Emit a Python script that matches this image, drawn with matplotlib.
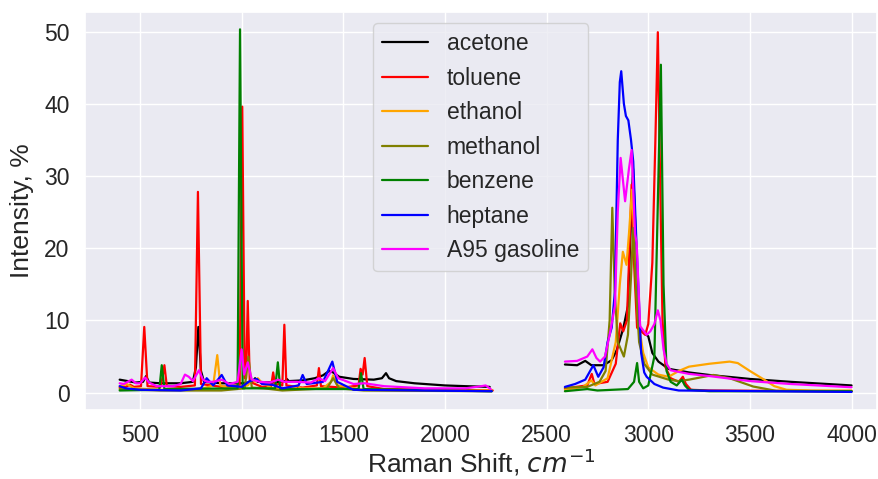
import numpy as np
import matplotlib
matplotlib.use("Agg")
import matplotlib.pyplot as plt
import seaborn as sns

nan = float("nan")

# ---------------- data ----------------
acetone_x = [400, 440, 480, 515, 530, 545, 600, 700, 760, 775, 787, 800, 815, 900, 1000, 1055, 1066, 1078,
             1150, 1215, 1222, 1232, 1300, 1360, 1400, 1430, 1450, 1480, 1550, 1650, 1690, 1710, 1725, 1760,
             1850, 2000, 2100, 2220,
             nan,
             2590, 2650, 2690, 2720, 2780, 2820, 2845, 2877, 2900, 2915, 2925, 2935, 2950, 2960, 3000, 3020,
             3050, 3100, 3200, 3300, 3500, 3700, 4000]
acetone_y = [1.8, 1.6, 1.4, 1.5, 2.3, 1.4, 1.3, 1.3, 1.5, 3.5, 9.1, 3.0, 1.5, 1.3, 1.3, 1.5, 2.0, 1.5,
             1.4, 1.6, 1.9, 1.6, 1.7, 2.0, 2.4, 3.0, 2.8, 2.2, 1.9, 1.8, 2.0, 2.7, 2.0, 1.6,
             1.3, 1.0, 0.9, 0.8,
             nan,
             3.9, 3.8, 4.4, 3.8, 3.8, 4.5, 5.9, 8.9, 12.0, 24.0, 31.0, 24.0, 12.0, 8.7, 7.8, 5.5,
             4.3, 3.3, 2.8, 2.45, 1.9, 1.5, 1.0]

toluene_x = [400, 430, 451, 470, 505, 521, 537, 600, 610, 620, 632, 700, 770, 785, 800, 900, 990, 1003, 1015,
             1022, 1030, 1040, 1100, 1145, 1155, 1165, 1180, 1200, 1210, 1220, 1300, 1370, 1380, 1390, 1500,
             1575, 1585, 1595, 1605, 1618, 1700, 2000, 2235,
             nan,
             2590, 2700, 2722, 2735, 2800, 2840, 2862, 2877, 2895, 2905, 2918, 2930, 2945, 2965, 2985, 3000,
             3020, 3035, 3047, 3058, 3070, 3085, 3110, 3150, 3170, 3185, 3210, 3300, 4000]
toluene_y = [0.7, 0.8, 1.1, 0.8, 0.9, 9.1, 0.9, 0.8, 2.0, 3.8, 0.9, 0.8, 1.0, 27.8, 1.2, 0.8, 1.0, 39.6, 2.0,
             2.0, 12.7, 1.5, 0.8, 0.9, 2.8, 1.0, 1.2, 1.0, 9.4, 1.0, 0.7, 1.0, 3.4, 0.9, 0.7,
             1.0, 3.3, 2.5, 4.8, 0.9, 0.5, 0.4, 0.3,
             nan,
             0.6, 1.0, 2.6, 1.2, 1.5, 4.0, 9.6, 8.5, 10.0, 18.0, 28.8, 18.0, 9.0, 8.5, 8.0, 9.5,
             18.0, 35.0, 49.9, 30.0, 10.0, 3.5, 2.0, 1.5, 2.2, 1.2, 0.4, 0.3, 0.2]

ethanol_x = [400, 435, 470, 600, 800, 860, 880, 895, 940, 1030, 1050, 1065, 1080, 1095, 1150, 1260, 1275, 1290,
             1400, 1440, 1450, 1470, 1600, 2000, 2230,
             nan,
             2590, 2680, 2720, 2740, 2800, 2840, 2860, 2875, 2893, 2905, 2920, 2935, 2950, 2975, 3000, 3050,
             3100, 3150, 3200, 3300, 3400, 3440, 3500, 3570, 3620, 3680, 3800, 4000]
ethanol_y = [0.9, 1.2, 0.6, 0.4, 0.5, 1.0, 5.2, 1.0, 0.6, 1.0, 1.8, 1.5, 2.0, 1.5, 0.6, 0.6, 1.0, 0.6,
             0.6, 1.5, 2.4, 1.0, 0.4, 0.3, 0.3,
             nan,
             0.4, 0.8, 1.7, 1.0, 2.0, 7.0, 15.0, 19.5, 17.7, 22.0, 28.1, 20.0, 10.0, 5.5, 3.5, 2.5,
             2.2, 3.0, 3.6, 4.0, 4.3, 4.1, 3.0, 1.8, 0.9, 0.4, 0.3, 0.3]

methanol_x = [400, 600, 900, 1015, 1033, 1050, 1110, 1200, 1420, 1450, 1480, 1600, 2230,
              nan,
              2590, 2700, 2760, 2790, 2810, 2823, 2835, 2850, 2880, 2900, 2915, 2926, 2940, 2955, 2980, 3020,
              3100, 3150, 3200, 3320, 3400, 3516, 3630, 4000]
methanol_y = [0.5, 0.3, 0.3, 0.6, 5.0, 0.7, 0.6, 0.3, 0.6, 2.0, 0.6, 0.3, 0.2,
              nan,
              0.7, 0.8, 1.5, 3.0, 10.0, 25.6, 14.0, 7.0, 5.0, 8.0, 16.0, 22.8, 14.0, 7.0, 4.0, 2.5,
              1.8, 1.6, 1.8, 2.45, 2.0, 0.85, 0.25, 0.2]

benzene_x = [400, 595, 607, 620, 980, 992, 1005, 1165, 1178, 1190, 1575, 1587, 1600, 2230,
             nan,
             2590, 2700, 2750, 2900, 2930, 2945, 2955, 2975, 3000, 3030, 3050, 3062, 3075, 3090, 3110, 3140,
             3165, 3180, 3200, 3300, 4000]
benzene_y = [0.3, 0.4, 3.8, 0.5, 0.6, 50.3, 0.6, 0.6, 4.2, 0.5, 0.5, 2.7, 0.5, 0.2,
             nan,
             0.2, 0.5, 0.3, 0.5, 1.5, 4.1, 1.5, 0.6, 1.0, 5.0, 30.0, 45.4, 15.0, 3.0, 1.5, 1.0,
             1.8, 1.0, 0.4, 0.2, 0.2]

heptane_x = [400, 430, 500, 700, 800, 828, 860, 902, 930, 1000, 1040, 1075, 1100, 1150, 1200, 1280, 1300, 1320,
             1400, 1446, 1470, 1550, 2230,
             nan,
             2590, 2640, 2690, 2730, 2754, 2780, 2800, 2820, 2836, 2850, 2860, 2867, 2880, 2890, 2902, 2915,
             2926, 2940, 2955, 2965, 2980, 2992, 3030, 3073, 3150, 4000]
heptane_y = [0.9, 0.6, 0.4, 0.3, 0.6, 2.0, 1.0, 2.45, 1.0, 0.8, 1.6, 1.9, 1.2, 1.1, 0.6, 1.0, 2.45, 1.2,
             1.5, 4.3, 1.5, 0.4, 0.2,
             nan,
             0.8, 1.2, 1.8, 3.8, 2.2, 3.5, 7.0, 9.0, 14.0, 35.0, 43.0, 44.5, 40.0, 38.3, 37.7, 35.0,
             32.0, 22.0, 12.0, 5.5, 2.8, 2.2, 1.2, 0.7, 0.3, 0.1]

gasoline_x = [400, 420, 459, 480, 500, 525, 545, 582, 664, 700, 721, 740, 760, 790, 810, 829, 859, 902, 940,
              980, 1000, 1012, 1030, 1050, 1090, 1139, 1180, 1210, 1270, 1340, 1380, 1410, 1450, 1475, 1550,
              1605, 1700, 1900, 2100, 2180, 2200, 2225,
              nan,
              2590, 2650, 2700, 2725, 2745, 2763, 2787, 2810, 2836, 2850, 2864, 2886, 2905, 2918, 2935, 2943,
              2960, 2992, 3010, 3030, 3047, 3060, 3075, 3090, 3110, 3200, 3300, 3500, 3700, 4000]
gasoline_y = [1.3, 1.2, 1.8, 1.3, 1.3, 2.1, 1.4, 0.9, 0.9, 1.2, 2.5, 2.2, 1.6, 3.1, 1.8, 1.5, 1.5, 1.8, 1.2,
              1.5, 6.0, 2.5, 4.2, 1.8, 1.5, 1.4, 1.8, 1.5, 1.5, 1.4, 2.0, 1.6, 3.4, 2.0, 1.2,
              1.3, 0.9, 0.6, 0.6, 0.9, 1.0, 0.5,
              nan,
              4.3, 4.4, 5.0, 6.0, 4.8, 4.3, 5.0, 8.0, 12.0, 25.0, 32.5, 26.5, 31.0, 33.6, 22.0, 20.7,
              9.2, 8.0, 8.5, 9.5, 11.4, 10.0, 6.0, 4.0, 3.1, 2.6, 2.3, 1.6, 1.2, 0.75]

series_names = ["acetone", "toluene", "ethanol", "methanol", "benzene", "heptane", "A95 gasoline"]
series_x = [acetone_x, toluene_x, ethanol_x, methanol_x, benzene_x, heptane_x, gasoline_x]
series_y = [acetone_y, toluene_y, ethanol_y, methanol_y, benzene_y, heptane_y, gasoline_y]
series_colors = ["black", "red", "orange", "olive", "green", "blue", "magenta"]

x_ticks = [500, 1000, 1500, 2000, 2500, 3000, 3500, 4000]
y_ticks = [0, 10, 20, 30, 40, 50]

# ---------------- plot ----------------
sns.set_theme(style="darkgrid")
plt.rcParams["font.family"] = ["Liberation Sans", "DejaVu Sans"]

fig = plt.figure(figsize=(8.79, 4.79), dpi=100)
ax = fig.add_axes([85 / 879, 1 - 410 / 479, 792 / 879, 398 / 479])

for name, xs, ys, c in zip(series_names, series_x, series_y, series_colors):
    ax.plot(xs, ys, color=c, lw=1.6, label=name)

ax.set_xlim(229.5, 4125)
ax.set_ylim(-2.4, 52.7)
ax.set_xticks(x_ticks)
ax.set_yticks(y_ticks)
ax.tick_params(axis="both", length=0, labelsize=16.5, colors="#262626")
ax.tick_params(axis="x", pad=10)
ax.tick_params(axis="y", pad=11)

ax.set_xlabel("Raman Shift, $cm^{-1}$", fontsize=19, color="#262626", labelpad=0)
ax.set_ylabel("Intensity, %", fontsize=19, color="#262626", labelpad=7)

leg = ax.legend(loc="upper left", bbox_to_anchor=(0.364, 0.972), borderaxespad=0,
                fontsize=16.5, frameon=True)

fig.savefig("out.png", dpi=100)
